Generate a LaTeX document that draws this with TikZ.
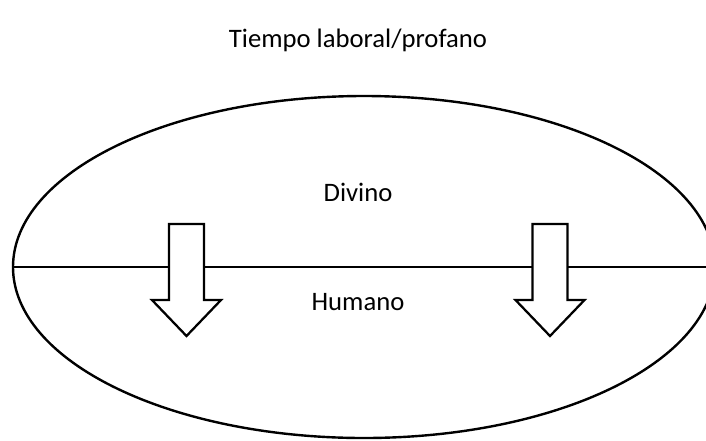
\documentclass[tikz,border=0pt]{standalone}
\usepackage{fontspec}
\setmainfont{Carlito}
\usetikzlibrary{shapes.geometric}

\begin{document}
\begin{tikzpicture}[x=0.75pt, y=-0.75pt]
\tikzset{mundo/.style={draw, ellipse, line width=1.8pt, inner sep=0pt, minimum width=526.5pt, minimum height=256.5pt}}
\tikzset{rotulo/.style={font=\fontsize{20}{24}\selectfont, inner sep=0pt}}
\tikzset{flecha/.pic={\draw[line width=1.7pt, fill=white, line join=miter] (-17.5,0) -- (17.5,0) -- (17.5,76) -- (34.5,76) -- (0,112) -- (-34.5,76) -- (-17.5,76) -- cycle;}}
\useasboundingbox (0,0) rectangle (706,440);
\node[rotulo] (T) at (358,40) {Tiempo laboral/profano};
\node[mundo] (E) at (364,267) {};
\coordinate (borde) at (706,267);
\draw[line width=0.8pt] (E.west) -- (borde);
\node[rotulo] (D) at (358,192) {Divino};
\node[rotulo] (H) at (358,302) {Humano};
\pic at (186.5,224) {flecha};
\pic at (550,224) {flecha};
\end{tikzpicture}
\end{document}
